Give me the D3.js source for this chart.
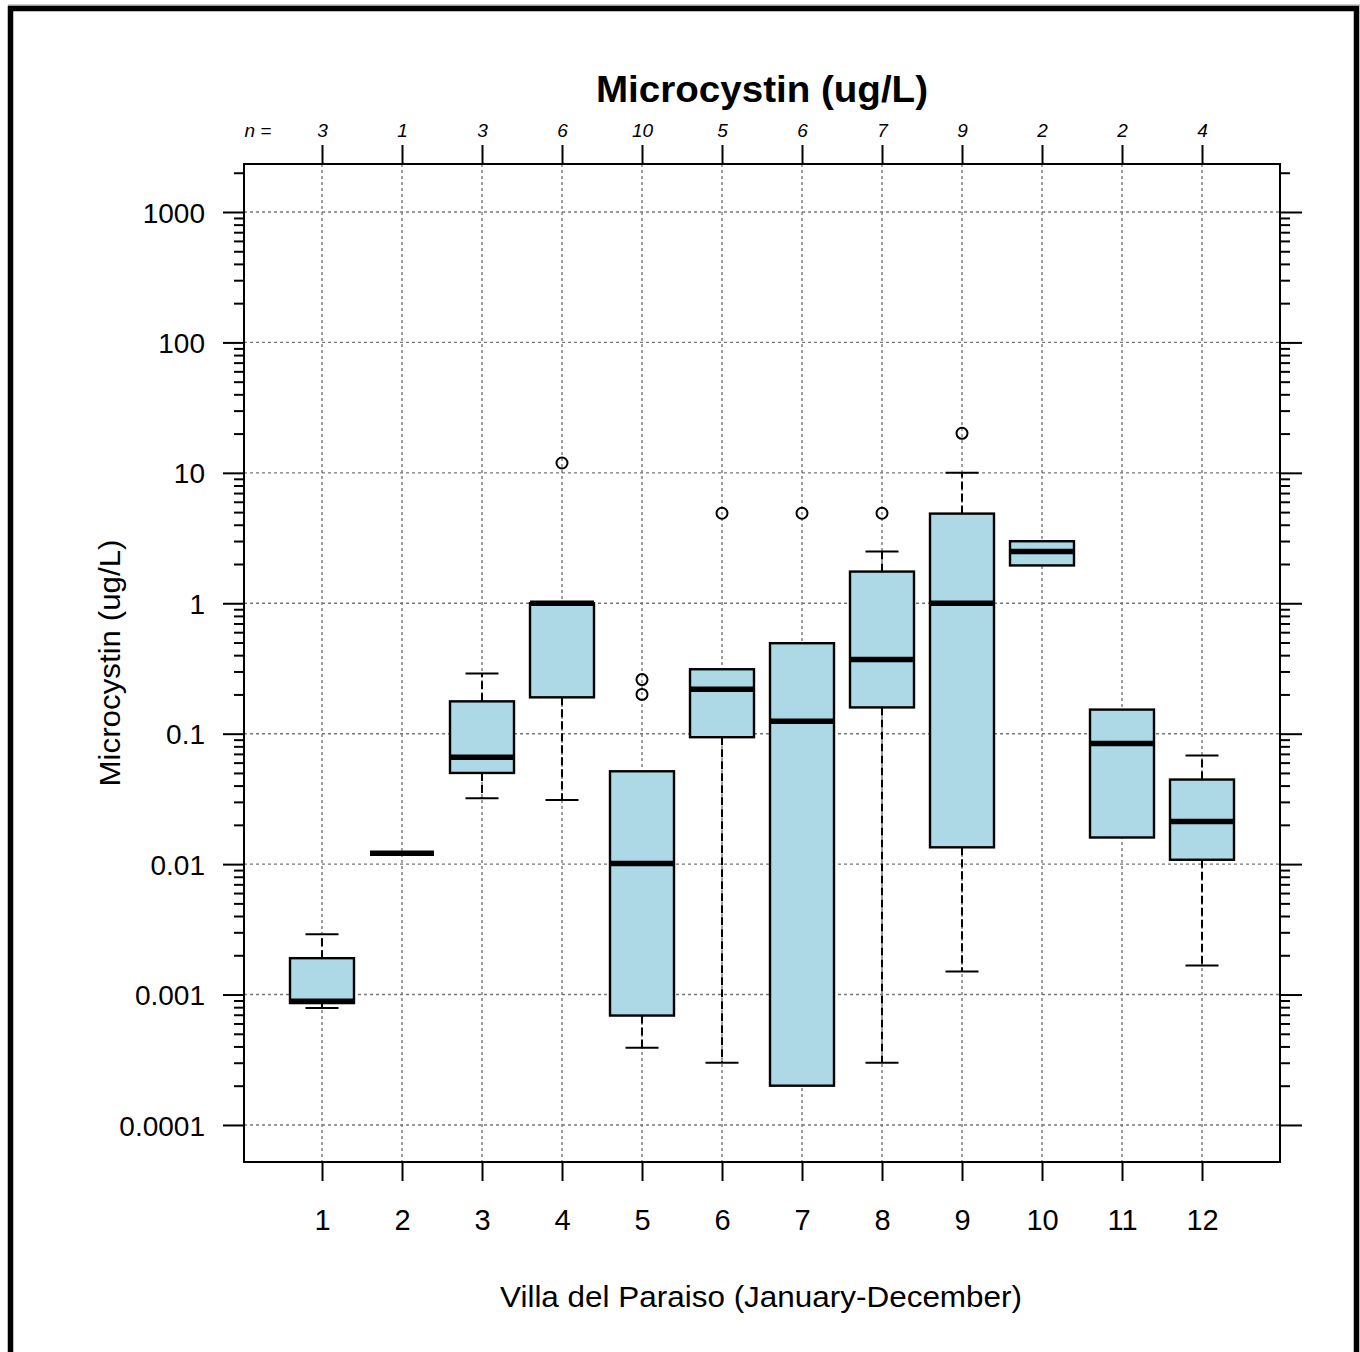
<!DOCTYPE html>
<html>
<head>
<meta charset="utf-8">
<script src="https://cdn.jsdelivr.net/npm/d3@7/dist/d3.min.js"></script>
<style>
  html, body { margin: 0; padding: 0; background: #fff; }
  svg { display: block; }
  text { font-family: "Liberation Sans", Arial, sans-serif; fill: #000; }
</style>
</head>
<body>
<svg id="chart" width="1360" height="1352"></svg>
<script>
// ---- data ----
const months      = [1, 2, 3, 4, 5, 6, 7, 8, 9, 10, 11, 12];
const nCounts     = [3, 1, 3, 6, 10, 5, 6, 7, 9, 2, 2, 4];
const whiskerLow  = [0.00079, 0.0121, 0.032, 0.031, 0.00039, 0.0003, 0.0002, 0.0003, 0.0015, 1.95, 0.016, 0.00167];
const q1          = [0.00086, 0.0121, 0.050, 0.19, 0.00069, 0.094, 0.0002, 0.159, 0.01345, 1.95, 0.016, 0.0108];
const medians     = [0.00089, 0.0121, 0.066, 1.0, 0.0101, 0.219, 0.1245, 0.37, 1.0, 2.49, 0.084, 0.0212];
const q3          = [0.0019, 0.0121, 0.177, 1.0, 0.0515, 0.312, 0.494, 1.75, 4.87, 2.99, 0.153, 0.0445];
const whiskerHigh = [0.0029, 0.0121, 0.29, 1.0, 0.0515, 0.312, 0.494, 2.49, 10, 2.99, 0.153, 0.068];
const outliers    = [[], [], [], [11.9], [0.26, 0.20], [4.9], [4.9], [4.9], [20.1], [], [], []];
const yTickValues = [0.0001, 0.001, 0.01, 0.1, 1, 10, 100, 1000];
const yTickLabels = ["0.0001", "0.001", "0.01", "0.1", "1", "10", "100", "1000"];
const titleText = "Microcystin (ug/L)";
const xLabelText = "Villa del Paraiso (January-December)";
const yLabelText = "Microcystin (ug/L)";

const svg = d3.select("#chart");

// outer frame
svg.append("line").attr("x1", 8).attr("x2", 1360).attr("y1", 5).attr("y2", 5)
  .attr("stroke", "#999").attr("stroke-width", 1);
svg.append("path")
  .attr("d", "M10.5,1352 L10.5,8.5 L1356.5,8.5 L1356.5,1352")
  .attr("fill", "none").attr("stroke", "#000").attr("stroke-width", 5.5);

// plot region
const L = 244, R = 1280, T = 164, B = 1162;
const x = d3.scaleLinear().domain([0.025, 12.975]).range([L, R]);
const y = d3.scaleLog().domain([Math.pow(10, -4.284), Math.pow(10, 3.368)]).range([B, T]);

// gridlines
const grid = svg.append("g").attr("stroke", "#777").attr("stroke-width", 1.4)
  .attr("stroke-dasharray", "3,3");
grid.selectAll("line.h").data(yTickValues).join("line")
  .attr("x1", L).attr("x2", R).attr("y1", d => y(d)).attr("y2", d => y(d));
grid.selectAll("line.v").data(months).join("line")
  .attr("y1", T).attr("y2", B).attr("x1", d => x(d)).attr("x2", d => x(d));

// minor tick values
const minorVals = [];
for (let e = -4; e <= 3; e++) {
  for (let k = 2; k <= 9; k++) {
    const v = k * Math.pow(10, e);
    if (v <= y.domain()[1]) minorVals.push(v);
  }
}

// left axis
const leftAxis = d3.axisLeft(y).tickValues(yTickValues).tickFormat((d, i) => yTickLabels[i])
  .tickSize(21).tickPadding(18);
const gl = svg.append("g").attr("transform", `translate(${L},0)`).call(leftAxis);
gl.select(".domain").remove();
gl.selectAll(".tick line").attr("stroke", "#000").attr("stroke-width", 2);
gl.selectAll(".tick text").attr("font-size", 28).attr("font-family", "Liberation Sans, Arial, sans-serif")
  .attr("fill", "#000").attr("dy", "0.36em");
const glm = d3.axisLeft(y).tickValues(minorVals).tickFormat("").tickSize(10);
const glmG = svg.append("g").attr("transform", `translate(${L},0)`).call(glm);
glmG.select(".domain").remove();
glmG.selectAll(".tick line").attr("stroke", "#000").attr("stroke-width", 2);

// right axis
const rightAxis = d3.axisRight(y).tickValues(yTickValues).tickFormat("").tickSize(22);
const gr = svg.append("g").attr("transform", `translate(${R},0)`).call(rightAxis);
gr.select(".domain").remove();
gr.selectAll(".tick line").attr("stroke", "#000").attr("stroke-width", 2);
const grm = d3.axisRight(y).tickValues(minorVals).tickFormat("").tickSize(10);
const grmG = svg.append("g").attr("transform", `translate(${R},0)`).call(grm);
grmG.select(".domain").remove();
grmG.selectAll(".tick line").attr("stroke", "#000").attr("stroke-width", 2);

// bottom axis
const bottomAxis = d3.axisBottom(x).tickValues(months).tickFormat(d3.format("d"))
  .tickSize(19).tickPadding(28);
const gb = svg.append("g").attr("transform", `translate(0,${B})`).call(bottomAxis);
gb.select(".domain").remove();
gb.selectAll(".tick line").attr("stroke", "#000").attr("stroke-width", 2);
gb.selectAll(".tick text").attr("font-size", 29).attr("font-family", "Liberation Sans, Arial, sans-serif")
  .attr("fill", "#000");

// top axis with n counts
const topAxis = d3.axisTop(x).tickValues(months).tickFormat((d, i) => nCounts[i])
  .tickSize(19).tickPadding(8);
const gt = svg.append("g").attr("transform", `translate(0,${T})`).call(topAxis);
gt.select(".domain").remove();
gt.selectAll(".tick line").attr("stroke", "#000").attr("stroke-width", 2);
gt.selectAll(".tick text").attr("font-size", 19).attr("font-style", "italic")
  .attr("font-family", "Liberation Sans, Arial, sans-serif").attr("fill", "#000");
svg.append("text").attr("x", 258).attr("y", 137).attr("text-anchor", "middle")
  .attr("font-size", 19).attr("font-style", "italic").text("n =");

// plot border
svg.append("rect").attr("x", L).attr("y", T).attr("width", R - L).attr("height", B - T)
  .attr("fill", "none").attr("stroke", "#000").attr("stroke-width", 2);

// boxes
const boxW = 64, capW = 33;
const data = months.map((m, i) => ({
  m, lo: whiskerLow[i], q1: q1[i], med: medians[i], q3: q3[i], hi: whiskerHigh[i], out: outliers[i]
}));
const gBox = svg.append("g");
data.forEach(d => {
  const cx = x(d.m);
  const g = gBox.append("g");
  // whiskers
  if (d.hi > d.q3) {
    g.append("line").attr("x1", cx).attr("x2", cx).attr("y1", y(d.q3)).attr("y2", y(d.hi))
      .attr("stroke", "#000").attr("stroke-width", 2).attr("stroke-dasharray", "8,4");
    g.append("line").attr("x1", cx - capW / 2).attr("x2", cx + capW / 2).attr("y1", y(d.hi)).attr("y2", y(d.hi))
      .attr("stroke", "#000").attr("stroke-width", 2);
  }
  if (d.lo < d.q1) {
    g.append("line").attr("x1", cx).attr("x2", cx).attr("y1", y(d.q1)).attr("y2", y(d.lo))
      .attr("stroke", "#000").attr("stroke-width", 2).attr("stroke-dasharray", "8,4");
    g.append("line").attr("x1", cx - capW / 2).attr("x2", cx + capW / 2).attr("y1", y(d.lo)).attr("y2", y(d.lo))
      .attr("stroke", "#000").attr("stroke-width", 2);
  }
  // box
  if (d.q3 > d.q1) {
    g.append("rect").attr("x", cx - boxW / 2).attr("width", boxW)
      .attr("y", y(d.q3)).attr("height", y(d.q1) - y(d.q3))
      .attr("fill", "#add8e6").attr("stroke", "#000").attr("stroke-width", 2.4);
  }
  // median
  g.append("line").attr("x1", cx - boxW / 2).attr("x2", cx + boxW / 2)
    .attr("y1", y(d.med)).attr("y2", y(d.med)).attr("stroke", "#000").attr("stroke-width", 5.5);
  // outliers
  g.selectAll("circle").data(d.out).join("circle")
    .attr("cx", cx).attr("cy", v => y(v)).attr("r", 5.5)
    .attr("fill", "none").attr("stroke", "#000").attr("stroke-width", 2);
});

// titles
svg.append("text").attr("x", (L + R) / 2).attr("y", 102).attr("text-anchor", "middle")
  .attr("font-size", 36).attr("font-weight", "bold")
  .attr("textLength", 332).attr("lengthAdjust", "spacingAndGlyphs").text(titleText);
svg.append("text").attr("x", 761).attr("y", 1307).attr("text-anchor", "middle")
  .attr("font-size", 30).attr("textLength", 522).attr("lengthAdjust", "spacingAndGlyphs").text(xLabelText);
svg.append("text").attr("transform", "translate(120,663) rotate(-90)").attr("text-anchor", "middle")
  .attr("font-size", 30).attr("textLength", 247).attr("lengthAdjust", "spacingAndGlyphs").text(yLabelText);
</script>
</body>
</html>
